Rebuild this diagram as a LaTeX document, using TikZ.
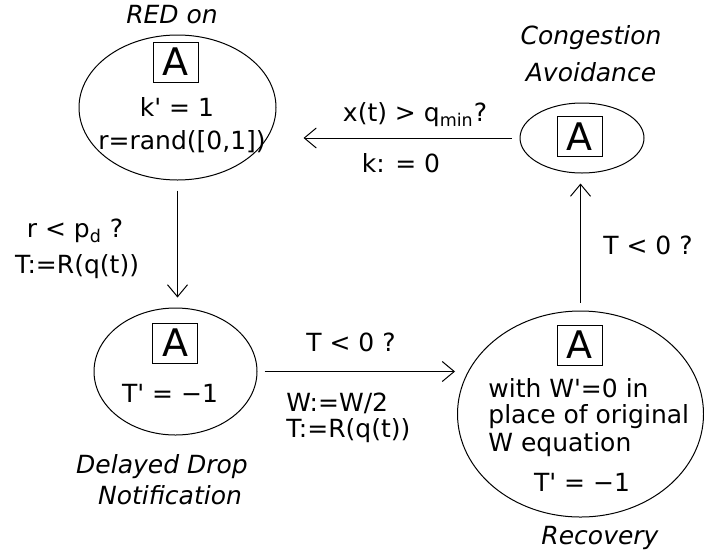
\documentclass[tikz,border=0pt]{standalone}
\usepackage{fontspec}
\setmainfont{DejaVu Sans}[ItalicFont={DejaVu Sans Oblique},BoldFont={DejaVu Sans Bold}]
\usetikzlibrary{shapes.geometric,arrows.meta}
\tikzset{
	state/.style={draw, ellipse, line width=0.5pt, inner sep=0pt},
	abox/.style={draw, line width=0.5pt, minimum width=22.5pt, minimum height=20pt, inner sep=0pt, font=\fontsize{19}{19}\selectfont},
	lbl/.style={font=\fontsize{12.5}{15}\selectfont, inner sep=0pt},
	stname/.style={font=\fontsize{12.5}{15}\selectfont\itshape, inner sep=0pt},
	arr/.style={-{Straight Barb[length=6pt,width=10pt]}, line width=0.5pt}
}
\begin{document}
\begin{tikzpicture}[x=0.5pt,y=-0.5pt]
		\useasboundingbox (0,0) rectangle (704,557);
		
		\node[state, minimum width=98.5pt, minimum height=72.5pt] (red) at (177.5,107.5) {};
		\node[state, minimum width=62pt, minimum height=35pt] (ca) at (582,138) {};
		\node[state, minimum width=81.5pt, minimum height=63.5pt] (ddn) at (175.5,371.5) {};
		\node[state, minimum width=123pt, minimum height=103pt] (rec) at (580.5,414) {};
		
		\foreach \n/\x/\y in {ared/175.5/62, aca/579.5/136.5, addn/175/343, arec/579.5/345}
		\node[abox] (\n) at (\x,\y) {A};
		
		\node[stname] (redon) at (172,15) {RED on};
		\node[stname] (cong) at (591,38) {Congestion};
		\node[stname] (avoid) at (591,72) {Avoidance};
		\node[stname] (delay) at (162,467) {Delayed Drop};
		\node[stname] (notif) at (170,495) {Notification};
		\node[stname] (recov) at (600,538) {Recovery};
		
		\node[lbl] (kdot) at (177,107) {k\textquotesingle\ = 1};
		\node[lbl] (rand) at (182,142) {r=rand([0,1])};
		\node[lbl] (tddn) at (170,393) {T\textquotesingle\ = −1};
		\node[lbl, anchor=west] (wline1) at (488,388) {with W\textquotesingle=0 in};
		\node[lbl, anchor=west] (wline2) at (488,417) {place of original};
		\node[lbl, anchor=west] (wline3) at (488,445) {W equation};
		\node[lbl] (trec) at (582,482) {T\textquotesingle\ = −1};
		
		\draw[arr, shorten <=4pt, shorten >=13.5pt] (ca.west) -- (ca.west -| red.east);
		\draw[arr, shorten <=5pt, shorten >=5pt] (red.south) -- (red.south |- ddn.north);
		\draw[arr, shorten <=3.5pt, shorten >=1pt] (ddn.east) -- (ddn.east -| rec.west);
		\draw[arr, shorten <=4pt, shorten >=5pt] (rec.north) -- (rec.north |- ca.south);
		
		\node[lbl] (qmin) at (415,115) {x(t) > q\textsubscript{min}?};
		\node[lbl] (kzero) at (401,163) {k: = 0};
		\node[lbl] (rpd) at (75,231) {r < p\textsubscript{d} ?};
		\node[lbl] (tset1) at (77,267) {T:=R(q(t))};
		\node[lbl] (tneg1) at (648,245) {T < 0 ?};
		\node[lbl] (tneg2) at (351,342) {T < 0 ?};
		\node[lbl, anchor=west] (whalf) at (286,403) {W:=W/2};
		\node[lbl, anchor=west] (tset2) at (286,431) {T:=R(q(t))};
	\end{tikzpicture}
\end{document}
